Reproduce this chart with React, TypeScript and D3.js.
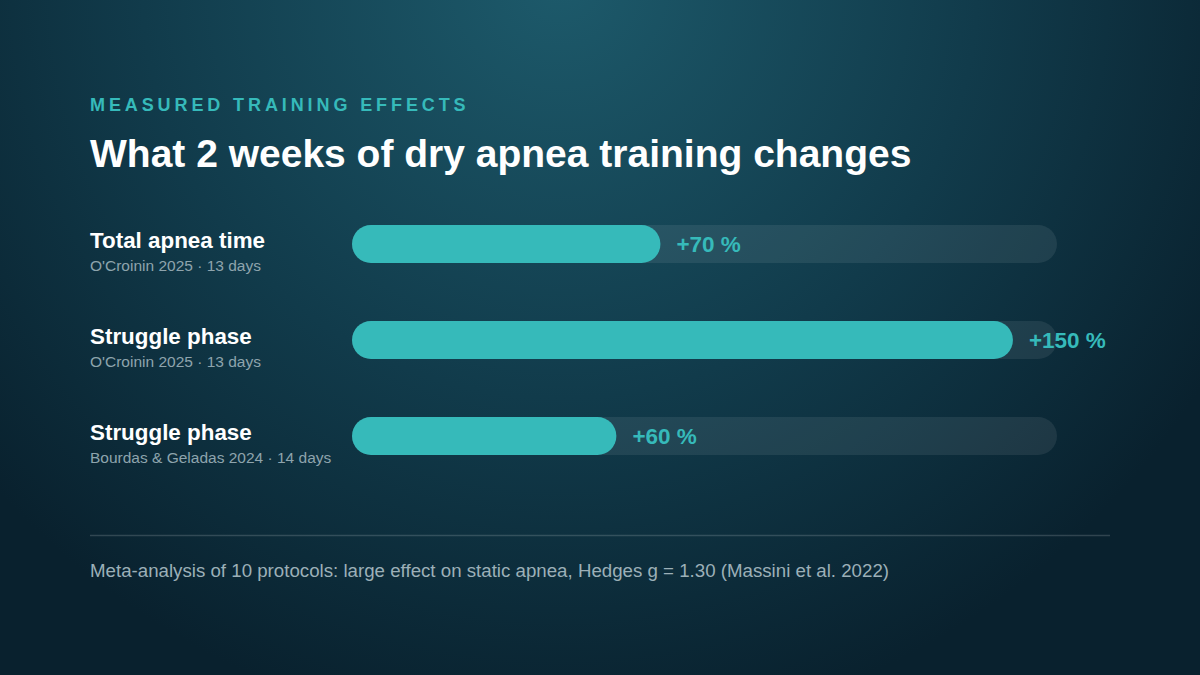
import { useEffect, useRef } from 'react';
import * as d3 from 'd3';

// Measured effects (percent change after ~2 weeks of training)
const metrics = ['Total apnea time', 'Struggle phase', 'Struggle phase'];
const sources = ["O'Croinin 2025 · 13 days", "O'Croinin 2025 · 13 days", 'Bourdas & Geladas 2024 · 14 days'];
const changes = [70, 150, 60];
const scaleMax = 160;

const WIDTH = 1200;
const HEIGHT = 675;
const FONT = '"Liberation Sans", Arial, Helvetica, sans-serif';
const TEAL = '#36baba';

export default function App() {
  const svgRef = useRef<SVGSVGElement>(null);

  useEffect(() => {
    if (!svgRef.current) return;
    const svg = d3.select(svgRef.current);
    svg.selectAll('*').remove();

    // Background glow
    const defs = svg.append('defs');
    const grad = defs.append('radialGradient')
      .attr('id', 'bg')
      .attr('gradientUnits', 'userSpaceOnUse')
      .attr('cx', 560).attr('cy', -20).attr('r', 760);
    grad.append('stop').attr('offset', '0%').attr('stop-color', '#1d5a6b');
    grad.append('stop').attr('offset', '55%').attr('stop-color', '#113b4b');
    grad.append('stop').attr('offset', '100%').attr('stop-color', '#09212e');

    svg.append('rect')
      .attr('width', WIDTH).attr('height', HEIGHT)
      .attr('fill', 'url(#bg)');

    // Headings
    svg.append('text')
      .attr('x', 90).attr('y', 111)
      .attr('font-family', FONT).attr('font-size', 18).attr('font-weight', 700)
      .attr('letter-spacing', 3.9)
      .attr('fill', TEAL)
      .text('MEASURED TRAINING EFFECTS');

    svg.append('text')
      .attr('x', 90).attr('y', 167)
      .attr('font-family', FONT).attr('font-size', 39).attr('font-weight', 700)
      .attr('fill', '#ffffff')
      .text('What 2 weeks of dry apnea training changes');

    const x = d3.scaleLinear().domain([0, scaleMax]).range([352, 1057]);
    const y = d3.scaleBand<number>()
      .domain(d3.range(changes.length))
      .range([196, 484])
      .paddingInner(0.6)
      .paddingOuter(0.3);
    const barH = 38;

    const rows = svg.append('g')
      .selectAll('g')
      .data(changes)
      .join('g')
      .attr('transform', (_, i) => `translate(0, ${(y(i) || 0) + y.bandwidth() / 2})`);

    rows.append('text')
      .attr('x', 90).attr('y', 4)
      .attr('font-family', FONT).attr('font-size', 22.4).attr('font-weight', 700)
      .attr('fill', '#ffffff')
      .text((_, i) => metrics[i]);

    rows.append('text')
      .attr('x', 90).attr('y', 27)
      .attr('font-family', FONT).attr('font-size', 15.5)
      .attr('fill', '#8ea4ad')
      .text((_, i) => sources[i]);

    // Track
    rows.append('rect')
      .attr('x', x(0)).attr('y', -barH / 2)
      .attr('width', x(scaleMax) - x(0)).attr('height', barH)
      .attr('rx', barH / 2)
      .attr('fill', 'rgba(255,255,255,0.08)');

    // Value bar
    rows.append('rect')
      .attr('x', x(0)).attr('y', -barH / 2)
      .attr('width', d => x(d) - x(0)).attr('height', barH)
      .attr('rx', barH / 2)
      .attr('fill', TEAL);

    rows.append('text')
      .attr('x', d => x(d) + 16).attr('y', 8)
      .attr('font-family', FONT).attr('font-size', 22.5).attr('font-weight', 700)
      .attr('fill', TEAL)
      .text(d => `+${d} %`);

    // Divider and footnote
    svg.append('line')
      .attr('x1', 90).attr('x2', 1110)
      .attr('y1', 535.5).attr('y2', 535.5)
      .attr('stroke', 'rgba(255,255,255,0.16)')
      .attr('stroke-width', 1.5);

    svg.append('text')
      .attr('x', 90).attr('y', 577)
      .attr('font-family', FONT).attr('font-size', 18.7)
      .attr('fill', '#9cb0b8')
      .text('Meta-analysis of 10 protocols: large effect on static apnea, Hedges g = 1.30 (Massini et al. 2022)');
  }, []);

  return (
    <svg
      ref={svgRef}
      width={WIDTH}
      height={HEIGHT}
      style={{ display: 'block', position: 'absolute', left: 0, top: 0 }}
    />
  );
}
